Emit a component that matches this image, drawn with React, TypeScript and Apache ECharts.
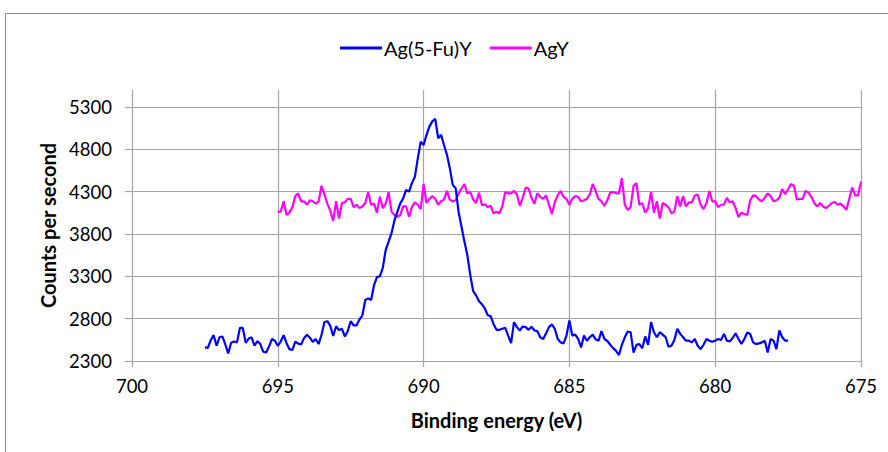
import React, { useEffect, useRef } from "react";
import * as echarts from "echarts";

// Ag(5-Fu)Y: binding energy 697.5 → 677.5 eV, 0.1 eV steps
const blueStart = 697.5;
const blueStep = 0.1;
const blueCounts = [
  2460, 2455, 2545, 2605, 2480, 2580, 2590, 2495, 2390, 2515,
  2530, 2520, 2690, 2690, 2515, 2565, 2580, 2480, 2535, 2500,
  2410, 2400, 2470, 2560, 2540, 2480, 2530, 2605, 2510, 2440,
  2430, 2530, 2505, 2495, 2570, 2610, 2575, 2525, 2560, 2500,
  2610, 2760, 2770, 2715, 2595, 2710, 2665, 2680, 2590, 2655,
  2770, 2720, 2720, 2790, 2840, 3020, 3040, 3020, 3195, 3290,
  3300, 3400, 3610, 3710, 3810, 3960, 4060, 4160, 4220, 4320,
  4300, 4400, 4475, 4690, 4890, 4850, 4970, 5070, 5130, 5160,
  4930, 4970, 4850, 4735, 4575, 4380, 4340, 4060, 3885, 3710,
  3550, 3315, 3125, 3075, 3005, 2970, 2920, 2840, 2830, 2735,
  2668, 2668, 2680, 2692, 2600, 2510, 2760, 2700, 2660, 2708,
  2700, 2668, 2704, 2660, 2652, 2580, 2560, 2628, 2700, 2732,
  2680, 2560, 2520, 2508, 2600, 2780, 2600, 2612, 2560, 2460,
  2600, 2540, 2580, 2612, 2556, 2540, 2652, 2560, 2536, 2492,
  2452, 2420, 2370, 2492, 2580, 2648, 2640, 2400, 2490, 2500,
  2450, 2590, 2490, 2760, 2640, 2580, 2640, 2612, 2580, 2468,
  2480, 2548, 2680, 2620, 2580, 2540, 2540, 2520, 2560, 2480,
  2440, 2492, 2560, 2540, 2528, 2540, 2560, 2548, 2620, 2540,
  2532, 2572, 2628, 2560, 2500, 2560, 2636, 2620, 2520, 2500,
  2508, 2520, 2540, 2400, 2560, 2540, 2440, 2660, 2580, 2540,
  2540,
];

// AgY: binding energy 695 → 675 eV, 0.1 eV steps
const magentaStart = 695;
const magentaStep = 0.1;
const magentaCounts = [
  4064, 4064, 4186, 4024, 4052, 4117, 4247, 4280, 4186, 4186,
  4145, 4198, 4186, 4158, 4186, 4369, 4267, 4158, 4076, 3954,
  4186, 3983, 4166, 4174, 4215, 4215, 4117, 4145, 4105, 4125,
  4166, 4296, 4145, 4158, 4052, 4239, 4105, 4158, 4296, 4064,
  4024, 4003, 4024, 4125, 4125, 4003, 4117, 4174, 4145, 4093,
  4390, 4166, 4215, 4247, 4215, 4145, 4186, 4206, 4308, 4206,
  4186, 4198, 4280, 4337, 4390, 4280, 4296, 4206, 4166, 4288,
  4141, 4150, 4117, 4133, 4044, 4064, 4044, 4125, 4296, 4280,
  4280, 4308, 4267, 4133, 4227, 4349, 4337, 4227, 4158, 4280,
  4239, 4215, 4255, 4145, 4036, 4174, 4255, 4308, 4239, 4215,
  4145, 4215, 4247, 4239, 4186, 4198, 4215, 4267, 4390, 4308,
  4215, 4186, 4133, 4198, 4288, 4296, 4280, 4280, 4458, 4145,
  4085, 4117, 4369, 4400, 4145, 4166, 4052, 4105, 4296, 4052,
  4186, 3983, 4166, 4145, 4117, 4044, 4064, 4247, 4125, 4247,
  4125, 4174, 4174, 4255, 4267, 4145, 4093, 4166, 4308, 4186,
  4186, 4117, 4145, 4145, 4227, 4174, 4186, 4105, 4003, 4052,
  4036, 4024, 4198, 4255, 4247, 4207, 4186, 4227, 4280, 4247,
  4186, 4198, 4227, 4330, 4270, 4328, 4389, 4369, 4207, 4215,
  4215, 4308, 4288, 4239, 4166, 4125, 4166, 4125, 4105, 4133,
  4166, 4178, 4145, 4158, 4125, 4085, 4215, 4349, 4255, 4255,
  4418,
];

const seriesNames = ["Ag(5-Fu)Y", "AgY"];
const yTickValues = [2300, 2800, 3300, 3800, 4300, 4800, 5300];

const toPairs = (start: number, step: number, values: number[]) =>
  values.map((v, i) => [Number((start - step * i).toFixed(2)), v]);

const FONT = "Lato";
const GRID = "#a6a6a6";

export default function App() {
  const ref = useRef<HTMLDivElement>(null);
  useEffect(() => {
    if (!ref.current) return;
    const chart = echarts.init(ref.current, null, { renderer: "svg" });
    chart.setOption({
      animation: false,
      backgroundColor: "#ffffff",
      textStyle: { fontFamily: FONT },
      graphic: [
        {
          type: "rect",
          shape: { x: 5.5, y: 13.5, width: 900, height: 500 },
          style: { fill: "none", stroke: "#8c8c8c", lineWidth: 1 },
          silent: true,
        },
      ],
      legend: {
        top: 33,
        left: 335,
        data: seriesNames,
        icon: "rect",
        itemWidth: 42,
        itemHeight: 3,
        itemGap: 18,
        textStyle: { fontFamily: FONT, fontSize: 20, color: "#000", padding: [0, 0, 0, -3] },
      },
      grid: { left: 132, right: 27, top: 90, bottom: 91 },
      xAxis: {
        type: "value",
        min: 675,
        max: 700,
        interval: 5,
        inverse: true,
        name: "Binding energy (eV)",
        nameLocation: "middle",
        nameGap: 49,
        nameTextStyle: { fontFamily: FONT, fontSize: 20, fontWeight: "bold", color: "#000" },
        axisLine: { show: true, lineStyle: { color: GRID, width: 1.2 } },
        axisTick: { show: true, length: 6, lineStyle: { color: GRID, width: 1.2 } },
        axisLabel: { fontFamily: FONT, fontSize: 18.5, color: "#000", margin: 15, formatter: (v: number) => String(v) },
        splitLine: { show: true, lineStyle: { color: GRID, width: 1.2 } },
      },
      yAxis: {
        type: "value",
        min: 2300,
        max: 5500,
        interval: 500,
        name: "Counts per second",
        nameLocation: "middle",
        nameGap: 72,
        nameTextStyle: { fontFamily: FONT, fontSize: 20, fontWeight: "bold", color: "#000" },
        axisLine: { show: false },
        axisTick: { show: true, length: 7, customValues: yTickValues, lineStyle: { color: GRID, width: 1.2 } },
        axisLabel: {
          fontFamily: FONT,
          fontSize: 18.5,
          color: "#000",
          margin: 20,
          customValues: yTickValues,
          formatter: (v: number) => String(v),
        },
        splitLine: {
          show: true,
          lineStyle: {
            color: [GRID, GRID, GRID, GRID, GRID, GRID, GRID, "rgba(0,0,0,0)"],
            width: 1.2,
          },
        },
      },
      series: [
        {
          name: seriesNames[0],
          type: "line",
          data: toPairs(blueStart, blueStep, blueCounts),
          showSymbol: false,
          symbol: "none",
          color: "#0000ff",
          lineStyle: { color: "#0000ff", width: 2.2 },
          z: 3,
        },
        {
          name: seriesNames[1],
          type: "line",
          data: toPairs(magentaStart, magentaStep, magentaCounts),
          showSymbol: false,
          symbol: "none",
          color: "#ff00ff",
          lineStyle: { color: "#ff00ff", width: 2.2 },
          z: 2,
        },
      ],
    });
    return () => chart.dispose();
  }, []);
  return (
    <div
      ref={ref}
      style={{ position: "absolute", left: 0, top: 0, width: 888, height: 452 }}
    />
  );
}
